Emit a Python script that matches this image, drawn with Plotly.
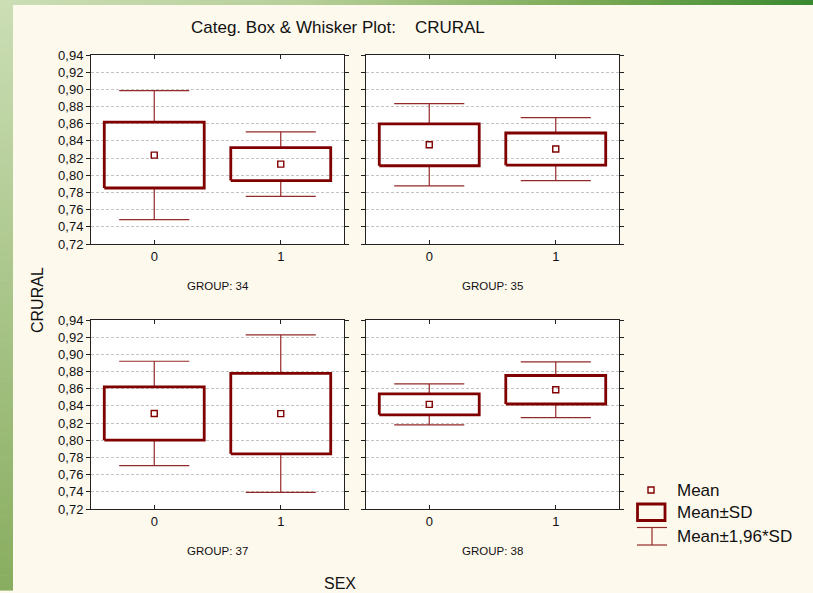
import plotly.graph_objects as go

# ---- data: CRURAL by SEX within each GROUP (mean and standard deviation) ----
groups = ["34", "35", "37", "38"]
sex_levels = [0, 1]
mean_sex0 = [0.8235, 0.8355, 0.8312, 0.8418]
mean_sex1 = [0.8130, 0.8305, 0.8310, 0.8588]
sd_sex0 = [0.0383, 0.0244, 0.0310, 0.0122]
sd_sex1 = [0.0192, 0.0187, 0.0468, 0.0166]
y_ticks = [0.72, 0.74, 0.76, 0.78, 0.80, 0.82, 0.84, 0.86, 0.88, 0.90, 0.92, 0.94]
whisker_factor = 1.96

W, H = 813, 593
DARK_RED = "#800000"
WHISKER = "#952828"
FONT = "Liberation Sans, Arial, sans-serif"
BG = "#fef9ed"


def px(x):
    return x / W


def py(y):
    return 1 - y / H


# panel placement (pixels): left/right columns, top/bottom rows
cols = [(91, 344), (366, 619)]
rows = [(55, 244), (320, 509)]
group_label_y = [286, 551]
panel_cells = [(0, 0), (0, 1), (1, 0), (1, 1)]

BOX_HALF = 0.395
CAP_HALF = 0.277

fig = go.Figure()
layout_axes = {}
annotations = []

for i, g in enumerate(groups):
    r, c = panel_cells[i]
    n = "" if i == 0 else str(i + 1)
    xa, ya = "x" + n, "y" + n
    means = [mean_sex0[i], mean_sex1[i]]
    sds = [sd_sex0[i], sd_sex1[i]]

    wx, wy = [], []
    bx, by = [], []
    for s, m, sd in zip(sex_levels, means, sds):
        hi, lo = m + whisker_factor * sd, m - whisker_factor * sd
        # whisker stems and caps
        wx += [s, s, None, s - CAP_HALF, s + CAP_HALF, None,
               s, s, None, s - CAP_HALF, s + CAP_HALF, None]
        wy += [m + sd, hi, None, hi, hi, None,
               m - sd, lo, None, lo, lo, None]
        # mean +/- SD box
        bx += [s - BOX_HALF, s + BOX_HALF, s + BOX_HALF, s - BOX_HALF, s - BOX_HALF, None]
        by += [m - sd, m - sd, m + sd, m + sd, m - sd, None]

    fig.add_trace(go.Scatter(x=wx, y=wy, xaxis=xa, yaxis=ya, mode="lines",
                             line=dict(color=WHISKER, width=1.2),
                             hoverinfo="skip", showlegend=False))
    fig.add_trace(go.Scatter(x=bx, y=by, xaxis=xa, yaxis=ya, mode="lines",
                             line=dict(color=DARK_RED, width=2.8),
                             hoverinfo="skip", showlegend=False))
    fig.add_trace(go.Scatter(x=sex_levels, y=means, xaxis=xa, yaxis=ya, mode="markers",
                             marker=dict(symbol="square-open", size=6, color=DARK_RED,
                                         line=dict(width=1.4, color=DARK_RED)),
                             showlegend=False))

    x0, x1 = cols[c]
    y0, y1 = rows[r]
    layout_axes["xaxis" + n] = dict(
        domain=[px(x0), px(x1)], anchor=ya, range=[-0.5, 1.5],
        tickvals=sex_levels, ticktext=[str(s) for s in sex_levels],
        ticks="inside", ticklen=4, tickcolor="#222", mirror="ticks",
        showline=True, linecolor="#222", linewidth=1, showgrid=False, zeroline=False,
        tickfont=dict(family=FONT, size=13, color="#111"),
        fixedrange=True,
    )
    layout_axes["yaxis" + n] = dict(
        domain=[py(y1), py(y0)], anchor=xa, range=[0.72, 0.94],
        tickvals=y_ticks, tickformat=".2f",
        ticks="outside", ticklen=4, tickcolor="#222", mirror="ticks",
        showline=True, linecolor="#222", linewidth=1,
        showgrid=True, gridcolor="#c4c4c4", griddash="3px,2px", gridwidth=1,
        zeroline=False, showticklabels=(c == 0),
        tickfont=dict(family=FONT, size=13, color="#111"),
        fixedrange=True,
    )
    annotations.append(dict(text="GROUP: " + g, x=px((x0 + x1) / 2), y=py(group_label_y[r]),
                            font=dict(family=FONT, size=11.5, color="#111")))

shapes = []

# green frame: gradient strips along the top and left edges
def mix(c1, c2, t):
    a = [int(c1[k:k + 2], 16) for k in (1, 3, 5)]
    b = [int(c2[k:k + 2], 16) for k in (1, 3, 5)]
    return "rgb({},{},{})".format(*[round(a[j] + (b[j] - a[j]) * t) for j in range(3)])


top_stops = [(0, "#cbdeb5"), (300, "#b7d09a"), (600, "#78a853"), (813, "#3a8931")]
steps = 80
for k in range(steps):
    xa0 = W * k / steps
    xa1 = W * (k + 1) / steps
    xm = (xa0 + xa1) / 2
    for (p0, c0), (p1, c1) in zip(top_stops[:-1], top_stops[1:]):
        if p0 <= xm <= p1:
            col = mix(c0, c1, (xm - p0) / (p1 - p0))
    shapes.append(dict(type="rect", xref="paper", yref="paper", layer="below",
                       x0=px(xa0), x1=px(xa1) + 0.001, y0=py(5), y1=1,
                       fillcolor=col, line=dict(width=0)))
for k in range(steps):
    ya0 = 590 * k / steps
    ya1 = 590 * (k + 1) / steps
    t = ((ya0 + ya1) / 2) / 590
    col = mix("#cbdeb5", "#88ad5f", t)
    shapes.append(dict(type="rect", xref="paper", yref="paper", layer="below",
                       x0=0, x1=px(13), y0=py(ya1) - 0.001, y1=py(ya0),
                       fillcolor=col, line=dict(width=0)))

# legend symbols
shapes.append(dict(type="rect", xref="paper", yref="paper",
                   x0=px(648), x1=px(654), y0=py(493), y1=py(487),
                   line=dict(color=DARK_RED, width=1.4)))
shapes.append(dict(type="rect", xref="paper", yref="paper",
                   x0=px(637.5), x1=px(665), y0=py(520.5), y1=py(504),
                   line=dict(color=DARK_RED, width=2.8)))
for yy in (527.5, 545):
    shapes.append(dict(type="line", xref="paper", yref="paper",
                       x0=px(637), x1=px(667), y0=py(yy), y1=py(yy),
                       line=dict(color=WHISKER, width=1.2)))
shapes.append(dict(type="line", xref="paper", yref="paper",
                   x0=px(652), x1=px(652), y0=py(527.5), y1=py(545),
                   line=dict(color=WHISKER, width=1.2)))

annotations += [
    dict(text="Categ. Box &amp; Whisker Plot:\u00a0\u00a0\u00a0 CRURAL", x=px(337.5), y=py(28),
         font=dict(family=FONT, size=17, color="#111")),
    dict(text="CRURAL", x=px(37), y=py(300), textangle=-90,
         font=dict(family=FONT, size=16, color="#111")),
    dict(text="SEX", x=px(340), y=py(583),
         font=dict(family=FONT, size=16, color="#111")),
]
for label, yy in (("Mean", 490), ("Mean±SD", 512.5), ("Mean±1,96*SD", 536)):
    annotations.append(dict(text=label, x=px(675), y=py(yy), xanchor="left",
                            font=dict(family=FONT, size=17, color="#111")))
for a in annotations:
    a.setdefault("xref", "paper")
    a.setdefault("yref", "paper")
    a.setdefault("showarrow", False)
    a.setdefault("xanchor", "center")
    a.setdefault("yanchor", "middle")

fig.update_layout(
    width=W, height=H,
    margin=dict(l=0, r=0, t=0, b=0, autoexpand=False),
    paper_bgcolor=BG, plot_bgcolor="white",
    separators=",.",
    showlegend=False,
    shapes=shapes,
    annotations=annotations,
    **layout_axes,
)

fig.write_html("out.html", config={"displayModeBar": False})
